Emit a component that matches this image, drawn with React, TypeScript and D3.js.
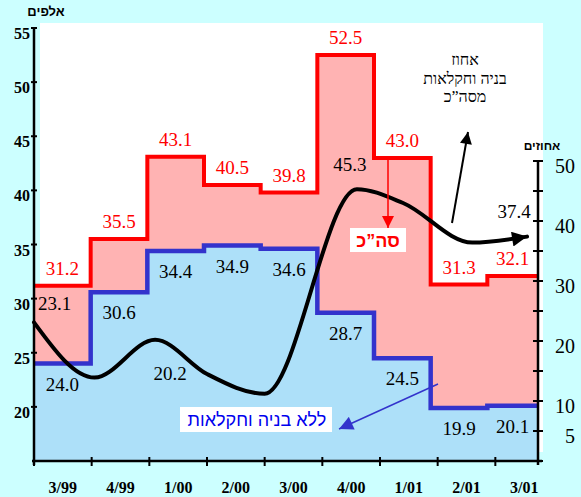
import React from "react";
import * as d3 from "d3";

// ---- data ----
const categories = ["3/99", "4/99", "1/00", "2/00", "3/00", "4/00", "1/01", "2/01", "3/01"];
const totalValues = [31.2, 35.5, 43.1, 40.5, 39.8, 52.5, 43.0, 31.3, 32.1];
const withoutConstrAgri = [24.0, 30.6, 34.4, 34.9, 34.6, 28.7, 24.5, 19.9, 20.1];
const sharePercent = [23.1, 13.9, 20.2, 14.5, 11.2, 45.3, 43.0, 36.4, 37.4];
const sharePos = [0, 1.05, 2.1, 3.0, 4.0, 5.6, 6.4, 7.6, 8.55];
const shareLabelIdx = [0, 2, 5, 8];
const leftTicks = [20, 25, 30, 35, 40, 45, 50, 55];
const rightTicks = [0, 5, 10, 15, 20, 25, 30, 35, 40, 45, 50];
const rightTickLabels = [50, 40, 30, 20, 10, 5];

const W = 581;
const H = 497;
const BG = "#CCFFFF";
const PINK = "#FFB3B3";
const LBLUE = "#ADE0F9";
const RED = "#FF0000";
const BLUE = "#3333CC";
const SERIF = "'Liberation Serif', 'Times New Roman', serif";
const SANS = "'Liberation Sans', Arial, sans-serif";

export default function App() {
  const x0 = 34;
  const xRightAxis = 538;
  const yL = d3.scaleLinear().domain([15, 55]).range([461, 28]);
  const yR = d3.scaleLinear().domain([0, 50]).range([461, 161]);
  const xStep = d3.scaleLinear().domain([0, 9]).range([x0, 544]);
  const xTick = d3.scaleLinear().domain([0, 9]).range([x0, 553]);
  const sx = (i: number) => Math.min(xStep(i), xRightAxis);

  const stepPts = (vals: number[]) => {
    const pts: [number, number][] = vals.map((v, i) => [sx(i), v]);
    pts.push([sx(vals.length), vals[vals.length - 1]]);
    return pts;
  };

  const stepLine = d3
    .line<[number, number]>()
    .x((d) => d[0])
    .y((d) => yL(d[1]))
    .curve(d3.curveStepAfter);
  const stepArea = d3
    .area<[number, number]>()
    .x((d) => d[0])
    .y0(yL(15))
    .y1((d) => yL(d[1]))
    .curve(d3.curveStepAfter);

  const curveLine = d3
    .line<number>()
    .x((_, i) => xTick(sharePos[i]))
    .y((d) => yR(d))
    .curve(d3.curveMonotoneX);

  const bandMid = (i: number) => (sx(i) + sx(i + 1)) / 2;
  const tickMid = (i: number) => (xTick(i) + xTick(i + 1)) / 2;

  const shareLabelOffset: Record<number, [number, number, string]> = {
    0: [4, -12, "start"],
    2: [15, 40, "middle"],
    5: [-7, -18, "middle"],
    8: [-13, -19, "middle"],
  };

  return (
    <svg
      width={W}
      height={H}
      style={{ position: "absolute", left: 0, top: 0, display: "block" }}
    >
      <defs>
        <marker id="arBlack" viewBox="0 0 10 10" refX="10" refY="5" markerWidth="17" markerHeight="15" markerUnits="userSpaceOnUse" orient="auto">
          <path d="M0,0 L10,5 L0,10 z" fill="#000" />
        </marker>
        <marker id="arBlackThin" viewBox="0 0 10 10" refX="10" refY="5" markerWidth="15" markerHeight="12" markerUnits="userSpaceOnUse" orient="auto">
          <path d="M0,0 L10,5 L0,10 z" fill="#000" />
        </marker>
        <marker id="arRed" viewBox="0 0 10 10" refX="10" refY="5" markerWidth="15" markerHeight="12" markerUnits="userSpaceOnUse" orient="auto">
          <path d="M0,0 L10,5 L0,10 z" fill={RED} />
        </marker>
        <marker id="arBlue" viewBox="0 0 10 10" refX="10" refY="5" markerWidth="17" markerHeight="14" markerUnits="userSpaceOnUse" orient="auto">
          <path d="M0,0 L10,5 L0,10 z" fill={BLUE} />
        </marker>
      </defs>

      <rect x={0} y={0} width={W} height={H} fill={BG} />
      <rect x={40} y={23} width={503} height={429} fill="#fff" />

      {/* areas */}
      <path d={stepArea(stepPts(totalValues)) || ""} fill={PINK} />
      <path d={stepLine(stepPts(totalValues)) || ""} fill="none" stroke={RED} strokeWidth={4} />
      <path d={stepArea(stepPts(withoutConstrAgri)) || ""} fill={LBLUE} />
      <path d={stepLine(stepPts(withoutConstrAgri)) || ""} fill="none" stroke={BLUE} strokeWidth={4.5} />

      {/* value labels */}
      {totalValues.map((v, i) => (
        <text key={"t" + i} x={bandMid(i)} y={yL(v) - 11} textAnchor="middle" fill={RED} fontFamily={SERIF} fontSize={19}>
          {v.toFixed(1)}
        </text>
      ))}
      {withoutConstrAgri.map((v, i) => (
        <text key={"b" + i} x={bandMid(i)} y={yL(v) + 27} textAnchor="middle" fill="#000" fontFamily={SERIF} fontSize={19}>
          {v.toFixed(1)}
        </text>
      ))}

      {/* share curve */}
      <path d={curveLine(sharePercent) || ""} fill="none" stroke="#000" strokeWidth={4} strokeLinecap="round" markerEnd="url(#arBlack)" />
      {shareLabelIdx.map((i) => {
        const [dx, dy, anchor] = shareLabelOffset[i];
        return (
          <text key={"s" + i} x={xTick(sharePos[i]) + dx} y={yR(sharePercent[i]) + dy} textAnchor={anchor as any} fill="#000" fontFamily={SERIF} fontSize={19}>
            {sharePercent[i].toFixed(1)}
          </text>
        );
      })}

      {/* annotations */}
      <line x1={388} y1={yL(totalValues[6])} x2={388} y2={228} stroke={RED} strokeWidth={1.5} markerEnd="url(#arRed)" />
      <rect x={350} y={228} width={56} height={24} fill="#fff" />
      <text x={378} y={247} textAnchor="middle" fill={RED} fontFamily={SANS} fontWeight="bold" fontSize={18}>
        סה”כ
      </text>

      <line x1={452} y1={223} x2={468} y2={132} stroke="#000" strokeWidth={2} markerEnd="url(#arBlackThin)" />
      <text x={465} y={65} textAnchor="middle" fill="#000" fontFamily={SERIF} fontSize={16}>אחוז</text>
      <text x={465} y={84} textAnchor="middle" fill="#000" fontFamily={SERIF} fontSize={16}>בניה וחקלאות</text>
      <text x={465} y={102} textAnchor="middle" fill="#000" fontFamily={SERIF} fontSize={16}>מסה”כ</text>

      <line x1={438} y1={384} x2={339} y2={429} stroke={BLUE} strokeWidth={1.5} markerEnd="url(#arBlue)" />
      <rect x={180} y={407} width={152} height={25} fill="#fff" />
      <text x={257} y={426} textAnchor="middle" fill="#0000EE" fontFamily={SANS} fontSize={18}>
        ללא בניה וחקלאות
      </text>

      {/* left axis */}
      <line x1={x0} y1={yL(55)} x2={x0} y2={yL(15) + 4} stroke="#000" strokeWidth={2.5} />
      {leftTicks.map((t) => (
        <g key={"lt" + t}>
          <line x1={x0 - 3} x2={x0 + 3} y1={yL(t)} y2={yL(t)} stroke="#000" strokeWidth={2} />
          <text x={30} y={yL(t) + 11} textAnchor="end" fontFamily={SERIF} fontWeight="bold" fontSize={16} fill="#000">
            {t}
          </text>
        </g>
      ))}
      <text x={46} y={16} textAnchor="middle" fontFamily={SANS} fontWeight="bold" fontSize={13} fill="#000">
        אלפים
      </text>

      {/* right axis */}
      <line x1={xRightAxis} y1={yR(50)} x2={xRightAxis} y2={yR(0) + 4} stroke="#000" strokeWidth={2.5} />
      {rightTicks.map((t) => (
        <line key={"rt" + t} x1={xRightAxis - 5} x2={xRightAxis + 5} y1={yR(t)} y2={yR(t)} stroke="#000" strokeWidth={2} />
      ))}
      {rightTickLabels.map((t) => (
        <text key={"rl" + t} x={575} y={yR(t) + 12} textAnchor="end" fontFamily={SERIF} fontSize={20} fill="#000">
          {t}
        </text>
      ))}
      <text x={542} y={150} textAnchor="middle" fontFamily={SANS} fontWeight="bold" fontSize={12} fill="#000">
        אחוזים
      </text>

      {/* x axis */}
      <line x1={x0 - 2} y1={yL(15)} x2={xRightAxis + 4} y2={yL(15)} stroke="#000" strokeWidth={2.5} />
      {categories.map((c, i) => (
        <g key={"xc" + i}>
          <line x1={xTick(i)} x2={xTick(i)} y1={yL(15) - 4} y2={yL(15) + 5} stroke="#000" strokeWidth={2} />
          <text x={tickMid(i)} y={493} textAnchor="middle" fontFamily={SERIF} fontWeight="bold" fontSize={16} fill="#000">
            {c}
          </text>
        </g>
      ))}
    </svg>
  );
}
